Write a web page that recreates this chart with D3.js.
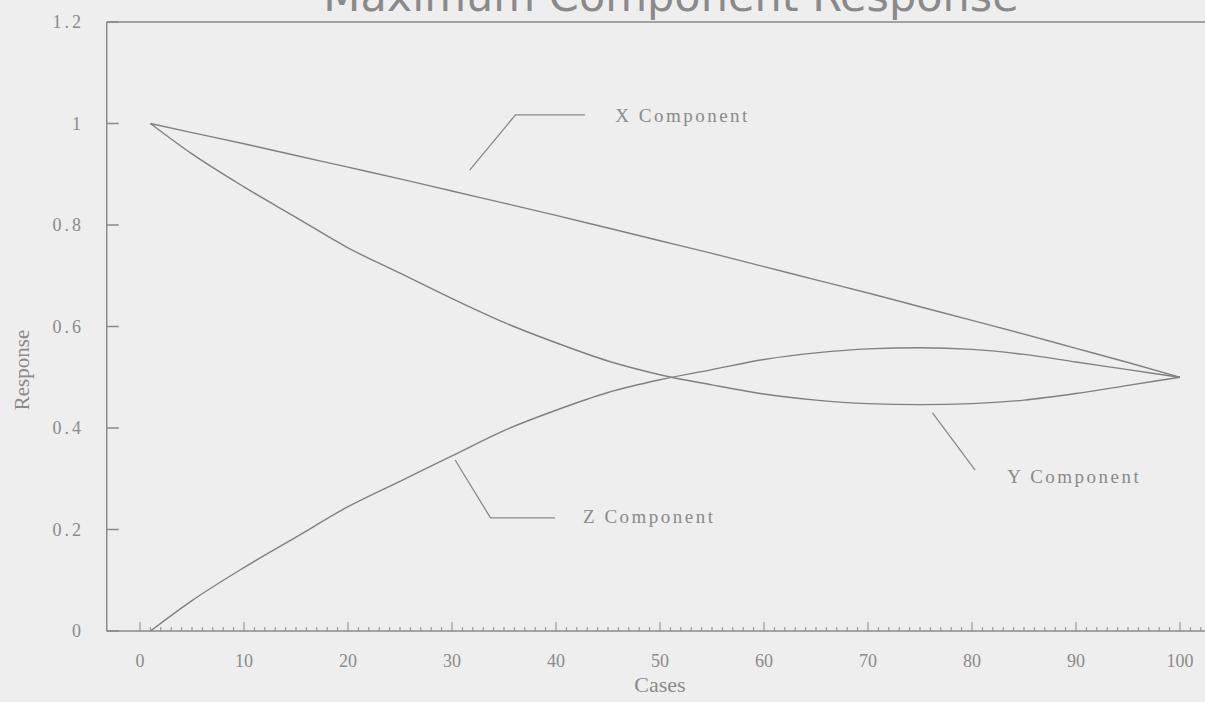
<!DOCTYPE html>
<html>
<head>
<meta charset="utf-8">
<script src="https://cdn.jsdelivr.net/npm/d3@7"></script>
<style>
  body { margin: 0; background: #eeeeee; }
  svg { display: block; }
</style>
</head>
<body>
<svg id="chart" width="1205" height="702"></svg>
<script>
// Data
const cases = [1, 5, 10, 15, 20, 25, 30, 35, 40, 45, 50, 55, 60, 65, 70, 75, 80, 85, 90, 95, 100];
const xComponent = [1, 0.982, 0.96, 0.937, 0.914, 0.891, 0.867, 0.843, 0.819, 0.794, 0.769, 0.744, 0.718, 0.692, 0.666, 0.639, 0.612, 0.585, 0.557, 0.529, 0.5];
const yComponent = [1, 0.94, 0.875, 0.815, 0.755, 0.705, 0.655, 0.608, 0.568, 0.532, 0.505, 0.485, 0.467, 0.455, 0.448, 0.446, 0.448, 0.455, 0.468, 0.484, 0.5];
const zComponent = [0, 0.06, 0.125, 0.185, 0.245, 0.295, 0.345, 0.395, 0.435, 0.47, 0.495, 0.515, 0.535, 0.548, 0.556, 0.558, 0.555, 0.545, 0.53, 0.515, 0.5];
const xTicks = [0, 10, 20, 30, 40, 50, 60, 70, 80, 90, 100];
const yTicks = [0, 0.2, 0.4, 0.6, 0.8, 1, 1.2];

// Callouts (data units): leader line points and label anchor
const callouts = [
  { name: "X Component", pts: [[31.7, 0.908], [36.1, 1.017], [42.8, 1.017]], label: [45.7, 1.003] },
  { name: "Z Component", pts: [[30.3, 0.337], [33.7, 0.223], [39.9, 0.223]], label: [42.6, 0.213] },
  { name: "Y Component", pts: [[76.2, 0.43], [80.3, 0.317]], label: [83.4, 0.292] }
];

const width = 1205;
const height = 702;
const ink = "#8a8a8a";

const x = d3.scaleLinear().domain([0, 100]).range([140, 1180]);
const y = d3.scaleLinear().domain([0, 1.2]).range([631, 22]);
const xLeft = x(-3.2);

const svg = d3.select("#chart");

svg.append("rect").attr("width", width).attr("height", height).attr("fill", "#eeeeee");

// Title (cut off at the top of the scan)
svg.append("text")
  .attr("x", 671)
  .attr("y", 11)
  .attr("text-anchor", "middle")
  .attr("font-family", "'DejaVu Sans', sans-serif")
  .attr("font-size", 43)
  .attr("fill", ink)
  .text("Maximum Component Response");

// Frame: top, left, bottom
svg.append("line").attr("x1", xLeft).attr("x2", width + 5).attr("y1", y(1.2)).attr("y2", y(1.2))
  .attr("stroke", ink).attr("stroke-width", 1.5);
svg.append("line").attr("x1", xLeft).attr("x2", xLeft).attr("y1", y(1.2)).attr("y2", y(0))
  .attr("stroke", ink).attr("stroke-width", 1.5);
svg.append("line").attr("x1", xLeft).attr("x2", width + 5).attr("y1", y(0)).attr("y2", y(0))
  .attr("stroke", ink).attr("stroke-width", 1.5);

// x minor / major ticks
const minor = d3.range(0, 103);
svg.append("g").selectAll("line")
  .data(minor)
  .join("line")
  .attr("x1", (d) => x(d)).attr("x2", (d) => x(d))
  .attr("y1", y(0))
  .attr("y2", (d) => y(0) - (d % 10 === 0 ? 9 : 4))
  .attr("stroke", ink).attr("stroke-width", 1);

svg.append("g").selectAll("text")
  .data(xTicks)
  .join("text")
  .attr("x", (d) => x(d)).attr("y", 667)
  .attr("text-anchor", "middle")
  .attr("font-family", "'Liberation Serif', serif")
  .attr("font-size", 18)
  .attr("fill", ink)
  .text((d) => d);

// y ticks
svg.append("g").selectAll("line")
  .data(yTicks)
  .join("line")
  .attr("x1", xLeft).attr("x2", xLeft + 12)
  .attr("y1", (d) => y(d)).attr("y2", (d) => y(d))
  .attr("stroke", ink).attr("stroke-width", 1.5);

svg.append("g").selectAll("text")
  .data(yTicks)
  .join("text")
  .attr("x", 84).attr("y", (d) => y(d) + 6)
  .attr("text-anchor", "end")
  .attr("font-family", "'Liberation Serif', serif")
  .attr("font-size", 18)
  .attr("letter-spacing", 3)
  .attr("fill", ink)
  .text((d) => d);

// Axis titles
svg.append("text")
  .attr("x", x(50)).attr("y", 692)
  .attr("text-anchor", "middle")
  .attr("font-family", "'Liberation Serif', serif")
  .attr("font-size", 22)
  .attr("fill", ink)
  .text("Cases");

svg.append("text")
  .attr("transform", "translate(29,370) rotate(-90)")
  .attr("text-anchor", "middle")
  .attr("font-family", "'Liberation Serif', serif")
  .attr("font-size", 21)
  .attr("fill", ink)
  .text("Response");

// Series
const line = d3.line().x((d) => x(d[0])).y((d) => y(d[1])).curve(d3.curveMonotoneX);
[xComponent, yComponent, zComponent].forEach((vals) => {
  svg.append("path")
    .datum(cases.map((c, i) => [c, vals[i]]))
    .attr("d", line)
    .attr("fill", "none")
    .attr("stroke", "#808080")
    .attr("stroke-width", 1.4);
});

// Callout leaders and labels
const leader = d3.line().x((d) => x(d[0])).y((d) => y(d[1]));
callouts.forEach((c) => {
  svg.append("path")
    .attr("d", leader(c.pts))
    .attr("fill", "none")
    .attr("stroke", ink)
    .attr("stroke-width", 1.3);
  svg.append("text")
    .attr("x", x(c.label[0])).attr("y", y(c.label[1]))
    .attr("font-family", "'Liberation Serif', serif")
    .attr("font-size", 19)
    .attr("letter-spacing", 2.5)
    .attr("fill", ink)
    .text(c.name);
});
</script>
</body>
</html>
